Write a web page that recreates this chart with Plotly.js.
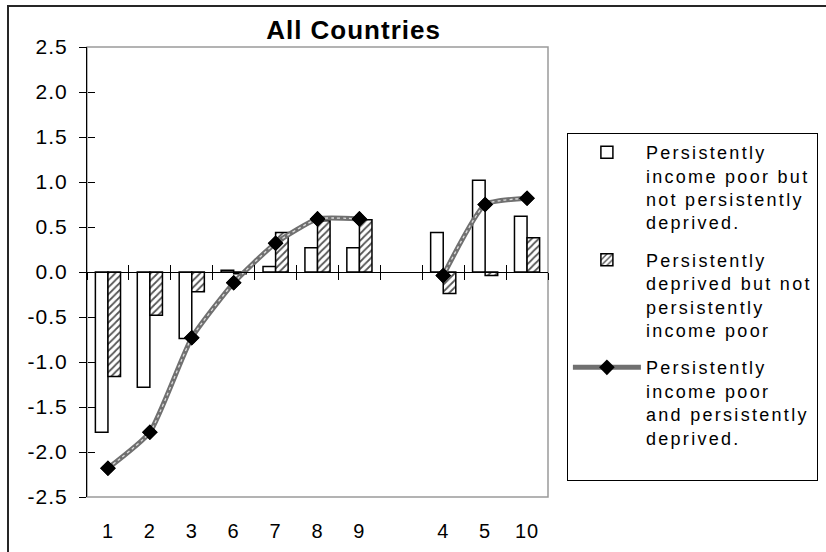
<!DOCTYPE html>
<html>
<head>
<meta charset="utf-8">
<script src="https://cdn.plot.ly/plotly-3.0.1.min.js"></script>
<style>
  html, body { margin: 0; padding: 0; background: #fff; }
  #wrap { position: relative; width: 826px; height: 552px; overflow: hidden; }
  #chart { width: 826px; height: 552px; }
  #frame { position: absolute; left: 7px; top: 5px; width: 900px; height: 700px;
           border: 2px solid #262626; box-sizing: border-box; pointer-events: none; }
  .legendtext { letter-spacing: 2.3px; }
  .gtitle { letter-spacing: 1px; }
  .ytick text, .xtick text { letter-spacing: 1px; }
</style>
</head>
<body>
<div id="wrap">
  <div id="chart"></div>
  <div id="frame"></div>
</div>
<script>
// ---- data ----
const categories = ['1', '2', '3', '6', '7', '8', '9', 'gap', '4', '5', '10'];
const tickLabels = ['1', '2', '3', '6', '7', '8', '9', '', '4', '5', '10'];
const incomePoorNotDeprived = [-1.78, -1.28, -0.74, 0.02, 0.06, 0.27, 0.27, null, 0.44, 1.02, 0.62];
const deprivedNotIncomePoor = [-1.16, -0.48, -0.22, -0.02, 0.44, 0.57, 0.58, null, -0.24, -0.04, 0.38];
const incomePoorAndDeprived = [-2.18, -1.78, -0.73, -0.12, 0.32, 0.59, 0.59, null, -0.04, 0.75, 0.82];
const seriesNames = [
  'Persistently<br>income poor but<br>not persistently<br>deprived.',
  'Persistently<br>deprived but not<br>persistently<br>income poor',
  'Persistently<br>income poor<br>and persistently<br>deprived.<br>\u00a0'
];
const yTicks = [-2.5, -2, -1.5, -1, -0.5, 0, 0.5, 1, 1.5, 2, 2.5];
const yTickLabels = ['-2.5', '-2.0', '-1.5', '-1.0', '-0.5', '0.0', '0.5', '1.0', '1.5', '2.0', '2.5'];

const FONT = 'Liberation Sans, Arial, sans-serif';

const traces = [
  {
    type: 'bar', x: categories, y: incomePoorNotDeprived, name: seriesNames[0],
    xaxis: 'x', yaxis: 'y', legendgroup: 'a',
    marker: { color: '#ffffff', line: { color: '#000000', width: 1.5 } },
    hoverinfo: 'y'
  },
  {
    type: 'bar', x: categories, y: deprivedNotIncomePoor, name: seriesNames[1],
    xaxis: 'x', yaxis: 'y', legendgroup: 'b',
    marker: { color: '#ffffff', line: { color: '#000000', width: 1.5 },
              pattern: { shape: '/', fgcolor: '#555555', bgcolor: '#ffffff', size: 5, solidity: 0.35 } },
    hoverinfo: 'y'
  },
  {
    type: 'scatter', mode: 'lines+markers', x: categories, y: incomePoorAndDeprived, name: seriesNames[2],
    xaxis: 'x2', yaxis: 'y', legendgroup: 'c', connectgaps: false,
    line: { color: '#707070', width: 5, shape: 'spline', smoothing: 0.5 },
    marker: { symbol: 'diamond', size: 12, color: '#000000' }
  },
  {
    type: 'scatter', mode: 'lines+markers', x: categories, y: incomePoorAndDeprived,
    xaxis: 'x3', yaxis: 'y2', showlegend: false, connectgaps: false, hoverinfo: 'skip',
    line: { color: '#dcdcdc', width: 1.3, dash: 'dot', shape: 'spline', smoothing: 0.5 },
    marker: { symbol: 'diamond', size: 12, color: '#000000' }
  }
];

const catAxisBase = {
  type: 'category', categoryorder: 'array', categoryarray: categories,
  range: [-0.5, categories.length - 0.5], showgrid: false, zeroline: false, fixedrange: true
};

const layout = {
  width: 826, height: 552,
  margin: { l: 87, r: 278, t: 47, b: 55, pad: 0, autoexpand: false },
  paper_bgcolor: '#ffffff', plot_bgcolor: '#ffffff',
  font: { family: FONT, size: 20, color: '#000000' },
  title: {
    text: '<b>All Countries</b>', font: { family: FONT, size: 26, color: '#000000' },
    xref: 'container', x: 0.428, xanchor: 'center',
    yref: 'container', y: 0.945, yanchor: 'middle'
  },
  barmode: 'group', bargap: 0.4, bargroupgap: 0,
  showlegend: true,
  legend: {
    x: 1.041, xanchor: 'left', y: 0.809, yanchor: 'top',
    bordercolor: '#000000', borderwidth: 1, bgcolor: '#ffffff',
    font: { family: FONT, size: 18, color: '#000000' },
    valign: 'top', itemwidth: 68, tracegroupgap: 11, traceorder: 'grouped'
  },
  xaxis: Object.assign({}, catAxisBase, {
    showline: false, ticks: '', tickvals: categories, ticktext: tickLabels,
    tickfont: { family: FONT, size: 20 }, ticklabelstandoff: 20
  }),
  xaxis2: Object.assign({}, catAxisBase, {
    overlaying: 'x', anchor: 'free', position: 0.5, side: 'bottom',
    showline: true, linecolor: '#000000', linewidth: 1,
    ticks: 'outside', ticklen: 7, tickcolor: '#000000', tickwidth: 1, tickson: 'boundaries',
    showticklabels: false
  }),
  xaxis3: Object.assign({}, catAxisBase, {
    overlaying: 'x', anchor: 'free', position: 0.5, side: 'bottom',
    showline: false,
    ticks: 'inside', ticklen: 7, tickcolor: '#000000', tickwidth: 1, tickson: 'boundaries',
    showticklabels: false
  }),
  yaxis: {
    range: [-2.5, 2.5], tickvals: yTicks, ticktext: yTickLabels,
    showline: true, linecolor: '#000000', linewidth: 1,
    ticks: 'outside', ticklen: 7, tickcolor: '#000000', tickwidth: 1,
    showgrid: false, zeroline: false, fixedrange: true,
    tickfont: { family: FONT, size: 21 }, ticklabelstandoff: 7
  },
  yaxis2: {
    overlaying: 'y', anchor: 'free', position: 0, side: 'left',
    range: [-2.5, 2.5], tickvals: yTicks,
    showline: false, ticks: 'inside', ticklen: 7, tickcolor: '#000000', tickwidth: 1,
    showticklabels: false, showgrid: false, zeroline: false, fixedrange: true
  },
  shapes: [
    { type: 'rect', xref: 'paper', yref: 'paper', x0: 0, x1: 1, y0: 0, y1: 1,
      line: { color: '#9a9a9a', width: 1.5 }, fillcolor: 'rgba(0,0,0,0)', layer: 'below' }
  ]
};

Plotly.newPlot('chart', traces, layout, { displayModeBar: false, staticPlot: true });
</script>
</body>
</html>
